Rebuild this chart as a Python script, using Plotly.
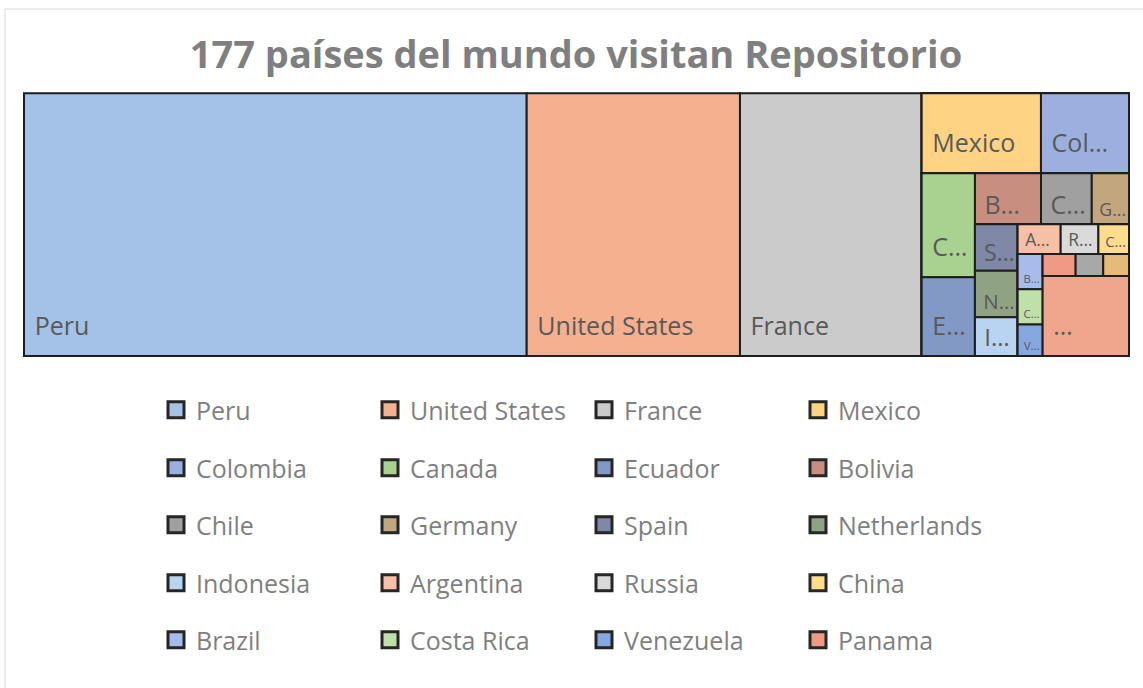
import plotly.graph_objects as go

W, H = 1143, 688

# ---- data (area-proportional visit counts) ----
countries = ["Peru", "United States", "France", "Mexico", "Colombia", "Canada", "Ecuador",
             "Bolivia", "Chile", "Germany", "Spain", "Netherlands", "Indonesia", "Argentina",
             "Russia", "China", "Brazil", "Costa Rica", "Venezuela", "Panama"]
visits = [13206, 5603, 4773, 954, 704, 554, 420, 337, 259, 190, 198, 199, 165, 128,
          112, 91, 88, 88, 79, 73]
# small unlabeled cells and the remaining countries ("…")
extra_names = ["Otro país 1", "Otro país 2", "Resto de países"]
extra_visits = [61, 57, 690]

# labels as displayed (truncated) in the cells
cell_labels = ["Peru", "United States", "France", "Mexico", "Col…", "C…", "E…", "B…", "C…",
               "G…", "S…", "N…", "I…", "A…", "R…", "C…", "B…", "C…", "V…", "", "", "", "…"]

colors = ["#a4c2e7", "#f5b090", "#cbcbcb", "#fed484", "#9cb0e0", "#a9d18f", "#8199c4",
          "#c88f80", "#a0a0a0", "#c2a67e", "#8088a8", "#8fa284", "#b9d4f0", "#f7c0a6",
          "#dadada", "#ffdd8c", "#a7bcea", "#c0e0aa", "#86a8e0", "#ee9a84"]
extra_colors = ["#a8a8a8", "#e6bb7a", "#f0a68c"]

# ---- layout structure of the treemap (alternating rows / columns) ----
n_top = 3
group_sizes = [2, 2, 3, 3, 3, 3, 3]
n_lifted = 7  # larger cells whose label sits a bit higher above the bottom edge

names = countries + extra_names
vals_all = visits + extra_visits
cols_all = colors + extra_colors

ids, labels, parents, values, mcolors, texts = [], [], [], [], [], []

LIFT = "<span style='font-size:42px'><sub>\u00a0</sub></span>"


def fmt(i):
    lab = cell_labels[i]
    if not lab:
        return ""
    if i < n_lifted or i == len(names) - 1:
        return LIFT + lab
    return "\u00a0" + lab


def add_leaf(i, parent):
    ids.append(f"c{i}")
    labels.append(names[i])
    parents.append(parent)
    values.append(vals_all[i])
    mcolors.append(cols_all[i])
    texts.append(fmt(i))


def add_group(gid, parent):
    ids.append(gid)
    labels.append(gid)
    parents.append(parent)
    values.append(0)
    mcolors.append("rgba(0,0,0,0)")
    texts.append("")


for i in range(n_top):
    add_leaf(i, "")
parent = ""
idx = n_top
for k, g in enumerate(group_sizes):
    rid, gid = f"R{k+1}", f"G{k+1}"
    add_group(rid, parent)
    add_group(gid, rid)
    for _ in range(g):
        add_leaf(idx, gid)
        idx += 1
    parent = rid
while idx < len(names):
    add_leaf(idx, parent)
    idx += 1

fig = go.Figure()
fig.add_trace(go.Treemap(
    ids=ids, labels=labels, parents=parents, values=values,
    branchvalues="remainder", sort=False,
    text=texts, texttemplate="%{text}", textposition="bottom left",
    textfont=dict(family="Open Sans", size=25, color="#595959"),
    marker=dict(colors=mcolors, line=dict(color="#1e1e1e", width=2),
                pad=dict(t=0, l=0, r=0, b=0), depthfade=False),
    tiling=dict(packing="slice-dice", pad=0),
    pathbar=dict(visible=False),
    root=dict(color="rgba(0,0,0,0)"),
    domain=dict(x=[24 / W, 1129 / W], y=[1 - 356 / H, 1 - 93.3 / H]),
    hoverinfo="label+value",
))

# legend entries (4 per row, 5 rows)
row_y = [410, 468, 525, 583, 640]
for i, name in enumerate(countries):
    r = i // 4
    fig.add_trace(go.Scatter(
        x=[None], y=[None], mode="markers", name=name,
        marker=dict(symbol="square", size=16, color=colors[i],
                    line=dict(color="#262626", width=3)),
        legend="legend" if r == 0 else f"legend{r+1}", hoverinfo="skip"))

leg_common = dict(orientation="h", xanchor="left", yanchor="middle", x=156 / W,
                  font=dict(family="Open Sans", size=25, color="#7f7f7f"),
                  entrywidth=169, entrywidthmode="pixels", bgcolor="rgba(0,0,0,0)",
                  borderwidth=0, traceorder="normal")
legends = {}
for r, yy in enumerate(row_y):
    key = "legend" if r == 0 else f"legend{r+1}"
    legends[key] = dict(leg_common, y=1 - yy / H)

fig.update_layout(
    width=W, height=H,
    margin=dict(l=0, r=0, t=0, b=0, autoexpand=False),
    paper_bgcolor="white", plot_bgcolor="white",
    title=dict(text="177 países del mundo visitan Repositorio", x=576 / W, xanchor="center",
               y=1 - 55 / H, yanchor="middle",
               font=dict(family="Open Sans", size=38, color="#7f7f7f", weight="bold")),
    xaxis=dict(visible=False), yaxis=dict(visible=False),
    shapes=[dict(type="rect", xref="paper", yref="paper", x0=5 / W, y0=1 - 9 / H,
                 x1=1.05, y1=-0.05, line=dict(color="#d9d9d9", width=1),
                 fillcolor="rgba(0,0,0,0)", layer="below")],
    **legends,
)

fig.write_html("out.html", config={"displayModeBar": False},
               post_script="document.body.style.margin='0';document.body.style.overflow='hidden';")
